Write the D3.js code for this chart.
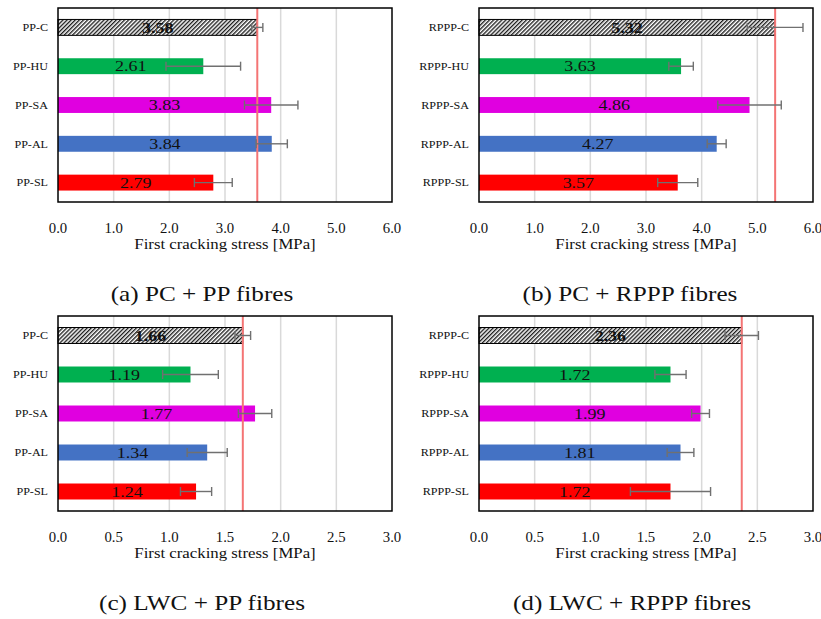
<!DOCTYPE html>
<html>
<head>
<meta charset="utf-8">
<script src="https://cdn.jsdelivr.net/npm/d3@7"></script>
<style>
  body { margin: 0; background: #fff; }
  svg { display: block; }
</style>
</head>
<body>
<svg id="chart" width="821" height="619"></svg>
<script>
// categories
const catPP = ['PP-C', 'PP-HU', 'PP-SA', 'PP-AL', 'PP-SL']
const catRPPP = ['RPPP-C', 'RPPP-HU', 'RPPP-SA', 'RPPP-AL', 'RPPP-SL']

// first cracking stress [MPa] and error (±)
const pcPP = [3.58, 2.61, 3.83, 3.84, 2.79]
const pcPPErr = [0.10, 0.67, 0.48, 0.28, 0.34]
const pcRPPP = [5.32, 3.63, 4.86, 4.27, 3.57]
const pcRPPPErr = [0.50, 0.22, 0.57, 0.17, 0.36]
const lwcPP = [1.66, 1.19, 1.77, 1.34, 1.24]
const lwcPPErr = [0.07, 0.25, 0.15, 0.18, 0.14]
const lwcRPPP = [2.36, 1.72, 1.99, 1.81, 1.72]
const lwcRPPPErr = [0.15, 0.14, 0.08, 0.12, 0.36]

const axisMax = [6, 6, 3, 3]
const captions = ['(a) PC + PP fibres', '(b) PC + RPPP fibres', '(c) LWC + PP fibres', '(d) LWC + RPPP fibres']
const axisTitle = 'First cracking stress [MPa]'

const barColors = ['url(#hatch)', '#00b050', '#e000e0', '#4472c4', '#ff0000']
const FONT = '"Liberation Serif", "Times New Roman", serif'
const SX = 1.2 // the figure is stretched a bit horizontally

const panels = [
  { cats: catPP, vals: pcPP, errs: pcPPErr, max: axisMax[0], caption: captions[0], x0: 58, x1: 392, y0: 8, y1: 202, capX: 202, capY: 301 },
  { cats: catRPPP, vals: pcRPPP, errs: pcRPPPErr, max: axisMax[1], caption: captions[1], x0: 479, x1: 813, y0: 8, y1: 202, capX: 630, capY: 301 },
  { cats: catPP, vals: lwcPP, errs: lwcPPErr, max: axisMax[2], caption: captions[2], x0: 58, x1: 392, y0: 316, y1: 511, capX: 202, capY: 610 },
  { cats: catRPPP, vals: lwcRPPP, errs: lwcRPPPErr, max: axisMax[3], caption: captions[3], x0: 479, x1: 813, y0: 316, y1: 511, capX: 632, capY: 610 }
]

const svg = d3.select('#chart')

// hatch for the control bars
const hatch = svg.append('defs').append('pattern')
  .attr('id', 'hatch')
  .attr('patternUnits', 'userSpaceOnUse')
  .attr('width', 2.9).attr('height', 2.9)
  .attr('patternTransform', 'rotate(45)')
hatch.append('rect').attr('width', 2.9).attr('height', 2.9).attr('fill', '#fff')
hatch.append('line').attr('x1', 0.7).attr('x2', 0.7).attr('y1', 0).attr('y2', 2.9)
  .attr('stroke', '#111').attr('stroke-width', 1.3)

// text helper: horizontally stretched serif text
function label(g, x, y, txt, size, anchor, weight, sx) {
  return g.append('text')
    .attr('transform', `translate(${x},${y}) scale(${sx || SX},1)`)
    .attr('text-anchor', anchor || 'middle')
    .attr('font-family', FONT)
    .attr('font-size', size)
    .attr('font-weight', weight || 'normal')
    .attr('fill', '#111')
    .text(txt)
}

function drawPanel(p) {
  const g = svg.append('g')
  const x = d3.scaleLinear().domain([0, p.max]).range([p.x0, p.x1])
  const y = d3.scaleBand().domain(p.cats).range([p.y0, p.y1])
    .paddingInner(0.59).paddingOuter(0.295)
  const ticks = x.ticks(6)
  const rows = p.cats.map((c, i) => ({ cat: c, v: p.vals[i], e: p.errs[i], i }))

  // grid
  g.append('g').selectAll('line')
    .data(ticks.filter(t => t > 0 && t < p.max))
    .join('line')
    .attr('x1', d => x(d)).attr('x2', d => x(d))
    .attr('y1', p.y0).attr('y2', p.y1)
    .attr('stroke', '#d9d9d9').attr('stroke-width', 1.5)

  // bars
  g.append('g').selectAll('rect')
    .data(rows)
    .join('rect')
    .attr('x', x(0))
    .attr('y', d => y(d.cat))
    .attr('width', d => x(d.v) - x(0))
    .attr('height', y.bandwidth())
    .attr('fill', d => barColors[d.i])
    .attr('stroke', d => d.i === 0 ? '#000' : 'none')
    .attr('stroke-width', 1)

  // reference line at control value
  g.append('line')
    .attr('x1', x(p.vals[0])).attr('x2', x(p.vals[0]))
    .attr('y1', p.y0).attr('y2', p.y1)
    .attr('stroke', '#f47474').attr('stroke-width', 2)

  // error bars
  const eb = g.append('g').attr('stroke', '#707070').attr('stroke-width', 1.4)
  rows.forEach(d => {
    const cy = y(d.cat) + y.bandwidth() / 2
    const lo = x(d.v - d.e), hi = x(d.v + d.e)
    eb.append('line').attr('x1', lo).attr('x2', hi).attr('y1', cy).attr('y2', cy)
    eb.append('line').attr('x1', lo).attr('x2', lo).attr('y1', cy - 4.5).attr('y2', cy + 4.5)
    eb.append('line').attr('x1', hi).attr('x2', hi).attr('y1', cy - 4.5).attr('y2', cy + 4.5)
  })

  // value labels
  rows.forEach(d => {
    const cy = y(d.cat) + y.bandwidth() / 2
    label(g, x(d.v / 2), cy + 5.2, d.v.toFixed(2), 15, 'middle', d.i === 0 ? 'bold' : 'normal')
  })

  // category labels
  rows.forEach(d => {
    const cy = y(d.cat) + y.bandwidth() / 2
    label(g, p.x0 - 10, cy + 3.8, d.cat, 11, 'end', 'normal', 1.1)
  })

  // frame
  g.append('rect')
    .attr('x', p.x0).attr('y', p.y0)
    .attr('width', p.x1 - p.x0).attr('height', p.y1 - p.y0)
    .attr('fill', 'none').attr('stroke', '#000').attr('stroke-width', 1.5)

  // tick labels
  ticks.forEach(t => label(g, x(t), p.y1 + 30.5, d3.format('.1f')(t), 14.5, 'middle', 'normal', 1.02))

  // axis title and caption
  label(g, (p.x0 + p.x1) / 2, p.y1 + 47, axisTitle, 14)
  label(g, p.capX, p.capY, p.caption, 21)
}

panels.forEach(drawPanel)
</script>
</body>
</html>
